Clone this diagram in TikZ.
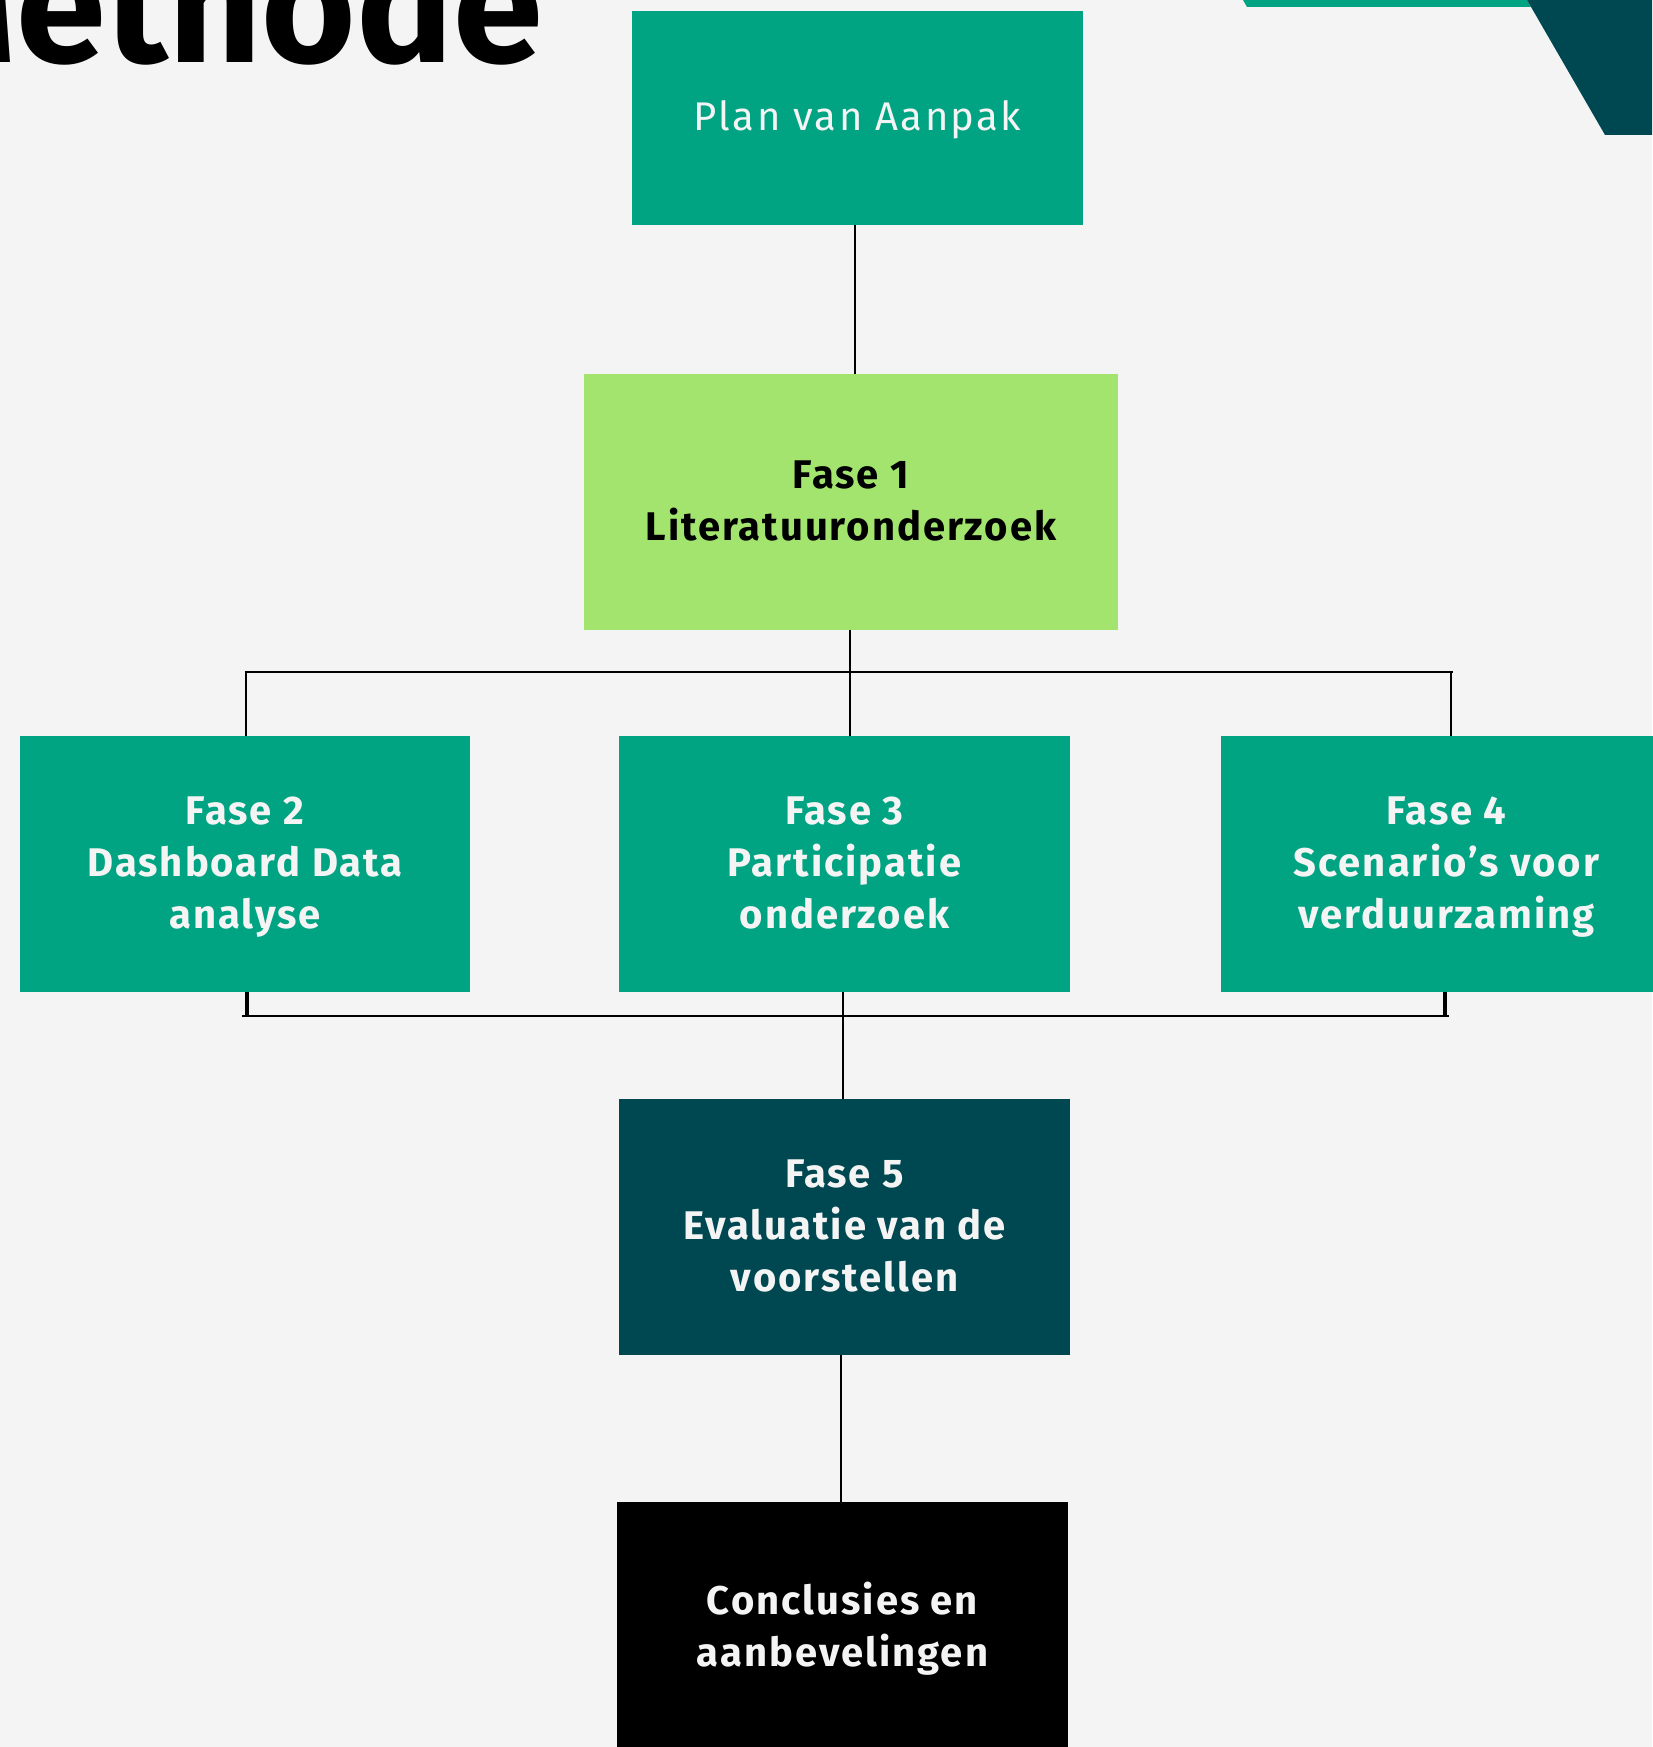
\documentclass[tikz,border=0pt]{standalone}
\usepackage{fontspec}
\setmainfont{Fira Sans}
\newfontfamily\boxfont[LetterSpace=5]{Fira Sans}
\newfontfamily\planfont[LetterSpace=6]{Fira Sans}
\definecolor{bg}{HTML}{F4F4F4}
\definecolor{fgreen}{HTML}{00A382}
\definecolor{lgreen}{HTML}{A3E46F}
\definecolor{dteal}{HTML}{004851}
\newcommand\boxtext[1]{\begin{tabular}[b]{@{}c@{}}#1\end{tabular}}
\tikzset{
  box/.style={rectangle, inner sep=0pt, text=bg, text depth=12pt,
    font=\boxfont\bfseries\fontsize{40}{52}\selectfont},
  conn/.style={draw=black, line width=2pt},
  stub/.style={draw=black, line width=4.5pt},
}
\begin{document}
\begin{tikzpicture}[x=1pt,y=-1pt]
\useasboundingbox (0,0) rectangle (1652,1747);
\fill[bg] (0,0) rectangle (1652,1747);
% top-right decoration
\fill[fgreen] (1243,0) -- (1247,7) -- (1531,7) -- (1527,0) -- cycle;
\fill[dteal] (1527,0) -- (1652,0) -- (1652,135) -- (1605,135) -- cycle;
% title
\node[anchor=base east, inner sep=0pt, font=\bfseries\fontsize{162}{162}\selectfont] (title) at (543,63) {Methode};
% boxes
\node[box, text depth=10.4pt, fill=fgreen, minimum width=451, minimum height=214,
  font=\planfont\fontsize{40}{52}\selectfont] (plan) at (857.5,118) {\boxtext{Plan van Aanpak}};
\node[box, fill=lgreen, text=black, minimum width=534, minimum height=256] (f1) at (851,502) {\boxtext{Fase 1\\Literatuuronderzoek}};
\node[box, fill=fgreen, minimum width=450, minimum height=256] (f2) at (245,864) {\boxtext{Fase 2\\Dashboard Data\\analyse}};
\node[box, fill=fgreen, minimum width=451, minimum height=256] (f3) at (844.5,864) {\boxtext{Fase 3\\Participatie\\onderzoek}};
\node[box, fill=fgreen, minimum width=451, minimum height=256] (f4) at (1446.5,864) {\boxtext{Fase 4\\Scenario’s voor\\verduurzaming}};
\node[box, fill=dteal, minimum width=451, minimum height=256] (f5) at (844.5,1227) {\boxtext{Fase 5\\Evaluatie van de\\voorstellen}};
\node[box, text depth=20.4pt, fill=black, minimum width=451, minimum height=260] (conc) at (842.5,1632) {\boxtext{Conclusies en\\aanbevelingen}};
% connector coordinates
\coordinate (tl) at (245.5,672);
\coordinate (tm) at (850,672);
\coordinate (tr) at (1451,672);
\coordinate (bl) at (247,1016);
\coordinate (bm) at (843,1016);
\coordinate (br) at (1445,1016);
% connectors
\draw[conn] (plan.south -| 855,0) -- (f1.north -| 855,0);
\draw[conn] (f1.south -| tm) -- (tm);
\draw[conn] (244.5,672) -- (1453,672);
\draw[conn] (tl) -- (f2.north -| tl);
\draw[conn] (tm) -- (f3.north -| tm);
\draw[conn] (tr) -- (f4.north -| tr);
\draw[stub] (f2.south -| bl) -- (bl);
\draw[stub] (f4.south -| br) -- (br);
\draw[conn] (242,1016) -- (1449,1016);
\draw[conn] (f3.south -| bm) -- (f5.north -| bm);
\draw[conn] (f5.south -| 841,0) -- (conc.north -| 841,0);
\end{tikzpicture}
\end{document}
